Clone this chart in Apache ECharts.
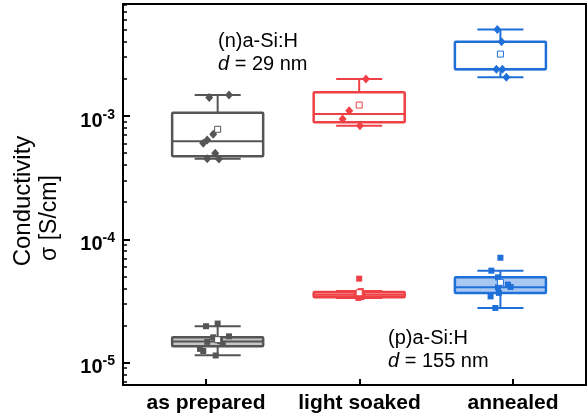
<!DOCTYPE html>
<html><head><meta charset="utf-8">
<script src="https://cdn.jsdelivr.net/npm/echarts@6/dist/echarts.min.js"></script>
<style>html,body{margin:0;padding:0;background:#fff}#c{width:587px;height:419px}</style>
</head><body><div id="c"></div>
<script>
// ---------- data ----------
const categories = ['as prepared', 'light soaked', 'annealed'];
// box statistics [min, Q1, median, Q3, max] in S/cm
const nBoxStats = [
  [4.49e-4, 4.72e-4, 6.24e-4, 1.063e-3, 1.479e-3],
  [8.35e-4, 8.89e-4, 1.038e-3, 1.556e-3, 1.995e-3],
  [2.06e-3, 2.40e-3, 2.40e-3, 4.00e-3, 5.03e-3]
];
const nMeans = [7.80e-4, 1.227e-3, 3.18e-3];
const nPoints = [
  [1.416e-3, 1.479e-3, 7.11e-4, 6.39e-4, 6.01e-4, 4.99e-4, 4.50e-4, 4.47e-4],
  [1.995e-3, 1.104e-3, 9.46e-4, 8.35e-4],
  [5.03e-3, 4.00e-3, 2.40e-3, 2.40e-3, 2.06e-3]
];
const nJitter = [
  [-0.055, 0.074, -0.029, -0.068, -0.094, -0.016, -0.068, 0.008],
  [0.044, -0.065, -0.108, 0.005],
  [-0.020, 0.007, -0.026, 0.013, 0.039]
];
const pBoxStats = [
  [1.146e-5, 1.355e-5, 1.479e-5, 1.603e-5, 1.97e-5],
  [3.34e-5, 3.38e-5, 3.55e-5, 3.73e-5, 3.80e-5],
  [2.77e-5, 3.67e-5, 4.07e-5, 4.91e-5, 5.56e-5]
];
const pMeans = [1.532e-5, 3.68e-5, 4.47e-5];
const pPoints = [
  [2.07e-5, 1.97e-5, 1.63e-5, 1.60e-5, 1.47e-5, 1.49e-5, 1.42e-5, 1.29e-5, 1.24e-5, 1.14e-5],
  [4.79e-5, 3.80e-5, 3.62e-5, 3.55e-5, 3.50e-5, 3.46e-5, 3.40e-5, 3.34e-5],
  [7.08e-5, 5.56e-5, 4.91e-5, 4.28e-5, 4.10e-5, 4.07e-5, 3.67e-5, 3.44e-5, 2.77e-5]
];
const pJitter = [
  [0.000, -0.076, 0.074, -0.029, -0.068, 0.015, 0.033, -0.115, -0.094, -0.013],
  [0.000, 0.010, -0.015, 0.005, 0.020, -0.010, 0.015, -0.005],
  [0.000, -0.059, -0.016, 0.049, 0.066, -0.016, -0.010, -0.064, -0.033]
];
const yTickValues = [1e-5, 1e-4, 1e-3];
const yTickExponents = ['-5', '-4', '-3'];
const nLabel = ['(n)a-Si:H', '29 nm'];
const pLabel = ['(p)a-Si:H', '155 nm'];

// ---------- layout / style ----------
const FONT = 'Liberation Sans, Arial, sans-serif';
const xTickPos = [1, 2, 3];
const boxShift = [0.076, -0.002, -0.082];
const BOX_W = 0.593, CAP_W = 0.30;
const X_MIN = 0.4593, X_MAX = 3.4756;
const Y_MIN = 6.568e-6, Y_MAX = 8.105e-3;
const colors = ['#555555', '#ef4046', '#1f6fd8'];
const fills = ['#c6c6c6', '#f7a9ab', '#a9c8f1'];

const minorTicks = [];
for (let e = -6; e <= -3; e++) {
  for (let m = 2; m <= 9; m++) {
    const v = m * Math.pow(10, e);
    if (v > Y_MIN && v < Y_MAX) minorTicks.push(v);
  }
}

function makeBoxSeries(stats, filled) {
  return {
    type: 'custom', z: 2, silent: true,
    data: stats.map((s, i) => [xTickPos[i] + boxShift[i]].concat(s)),
    encode: { x: 0, y: [1, 2, 3, 4, 5] },
    renderItem: function (params, api) {
      const i = params.dataIndex;
      const c = colors[i];
      const xc = api.value(0);
      const mn = api.value(1), q1 = api.value(2), md = api.value(3), q3 = api.value(4), mx = api.value(5);
      const pt = (x, y) => api.coord([x, y]);
      const l = xc - BOX_W / 2, r = xc + BOX_W / 2;
      const cl = xc - CAP_W / 2, cr = xc + CAP_W / 2;
      const line = (a, b, lw) => ({ type: 'line', shape: { x1: a[0], y1: a[1], x2: b[0], y2: b[1] }, style: { stroke: c, lineWidth: lw || 2 } });
      const tl = pt(l, q3), br = pt(r, q1);
      return {
        type: 'group', children: [
          line(pt(xc, q3), pt(xc, mx)),
          line(pt(xc, q1), pt(xc, mn)),
          line(pt(cl, mx), pt(cr, mx)),
          line(pt(cl, mn), pt(cr, mn)),
          { type: 'rect', shape: { x: tl[0], y: tl[1], width: br[0] - tl[0], height: br[1] - tl[1], r: 1 },
            style: { fill: filled ? fills[i] : 'none', stroke: c, lineWidth: 2.5 } },
          line(pt(l, md), pt(r, md), 2)
        ]
      };
    }
  };
}

const series = [makeBoxSeries(nBoxStats, false), makeBoxSeries(pBoxStats, true)];
categories.forEach((cat, i) => {
  const xc = xTickPos[i] + boxShift[i];
  series.push({
    type: 'scatter', z: 3, symbol: 'diamond', symbolSize: [8, 9], silent: true,
    itemStyle: { color: colors[i], opacity: 1 },
    data: nPoints[i].map((v, j) => [xc + nJitter[i][j], v])
  });
  series.push({
    type: 'scatter', z: 3, symbol: 'rect', symbolSize: 6, silent: true,
    itemStyle: { color: colors[i], opacity: 1 },
    data: pPoints[i].map((v, j) => [xc + pJitter[i][j], v])
  });
  series.push({
    type: 'scatter', z: 4, symbol: 'rect', symbolSize: 6, silent: true,
    itemStyle: { color: '#fff', borderColor: colors[i], borderWidth: 1, opacity: 1 },
    data: [[xc, nMeans[i]], [xc, pMeans[i]]]
  });
});

const chart = echarts.init(document.getElementById('c'));
chart.setOption({
  animation: false,
  backgroundColor: '#fff',
  grid: { left: 123, right: 1, top: 4, bottom: 34, show: true, borderColor: '#000', borderWidth: 2, backgroundColor: 'transparent', outerBoundsMode: 'none' },
  xAxis: [{
    type: 'value', min: X_MIN, max: X_MAX, position: 'bottom',
    axisLine: { show: true, onZero: false, lineStyle: { color: '#000', width: 2 } },
    axisTick: { show: true, inside: true, length: 6, customValues: xTickPos, lineStyle: { color: '#000', width: 2 } },
    axisLabel: { customValues: xTickPos, formatter: v => categories[Math.round(v) - 1], fontSize: 21, fontWeight: 'bold', color: '#000', margin: 8, fontFamily: FONT },
    splitLine: { show: false }
  }],
  yAxis: [{
    type: 'log', logBase: 10, min: Y_MIN, max: Y_MAX, position: 'left',
    axisLine: { show: true, onZero: false, lineStyle: { color: '#000', width: 2 } },
    axisTick: { show: true, inside: true, length: 7, customValues: yTickValues, lineStyle: { color: '#000', width: 2 } },
    axisLabel: {
      customValues: yTickValues, margin: 8, color: '#000',
      formatter: function (v) {
        let idx = 0;
        yTickValues.forEach((t, k) => { if (Math.abs(Math.log10(t) - Math.log10(v)) < 1e-6) idx = k; });
        return '{b|10}{s|' + yTickExponents[idx] + '}';
      },
      rich: {
        b: { fontSize: 20, fontWeight: 'bold', fontFamily: FONT, color: '#000', lineHeight: 20, padding: [10, 0, 0, 0] },
        s: { fontSize: 14, fontWeight: 'bold', fontFamily: FONT, color: '#000', verticalAlign: 'top', padding: [2, 0, 0, 0] }
      }
    },
    splitLine: { show: false }
  }, {
    type: 'log', logBase: 10, min: Y_MIN, max: Y_MAX, position: 'left',
    axisLine: { show: false },
    axisTick: { show: true, inside: true, length: 4, customValues: minorTicks, lineStyle: { color: '#000', width: 1.5 } },
    axisLabel: { show: false },
    splitLine: { show: false }
  }],
  graphic: [
    { type: 'text', x: 23, y: 201, rotation: Math.PI / 2, silent: true,
      style: { text: 'Conductivity', fontSize: 24, fontFamily: FONT, fill: '#000', align: 'center', verticalAlign: 'middle' } },
    { type: 'text', x: 50, y: 218, rotation: Math.PI / 2, silent: true,
      style: { text: 'σ [S/cm]', fontSize: 23, fontFamily: FONT, fill: '#000', align: 'center', verticalAlign: 'middle' } },
    { type: 'text', x: 218, y: 41, silent: true,
      style: { text: nLabel[0], fontSize: 20, fontFamily: FONT, fill: '#000', align: 'left', verticalAlign: 'middle' } },
    { type: 'text', x: 218, y: 64, silent: true,
      style: { text: '{i|d} = ' + nLabel[1], fontSize: 20, fontFamily: FONT, fill: '#000', align: 'left', verticalAlign: 'middle',
        rich: { i: { fontStyle: 'italic', fontSize: 20, fontFamily: FONT, fill: '#000' } } } },
    { type: 'text', x: 388, y: 338, silent: true,
      style: { text: pLabel[0], fontSize: 20, fontFamily: FONT, fill: '#000', align: 'left', verticalAlign: 'middle' } },
    { type: 'text', x: 388, y: 361, silent: true,
      style: { text: '{i|d} = ' + pLabel[1], fontSize: 20, fontFamily: FONT, fill: '#000', align: 'left', verticalAlign: 'middle',
        rich: { i: { fontStyle: 'italic', fontSize: 20, fontFamily: FONT, fill: '#000' } } } }
  ],
  series: series
});
</script></body></html>
